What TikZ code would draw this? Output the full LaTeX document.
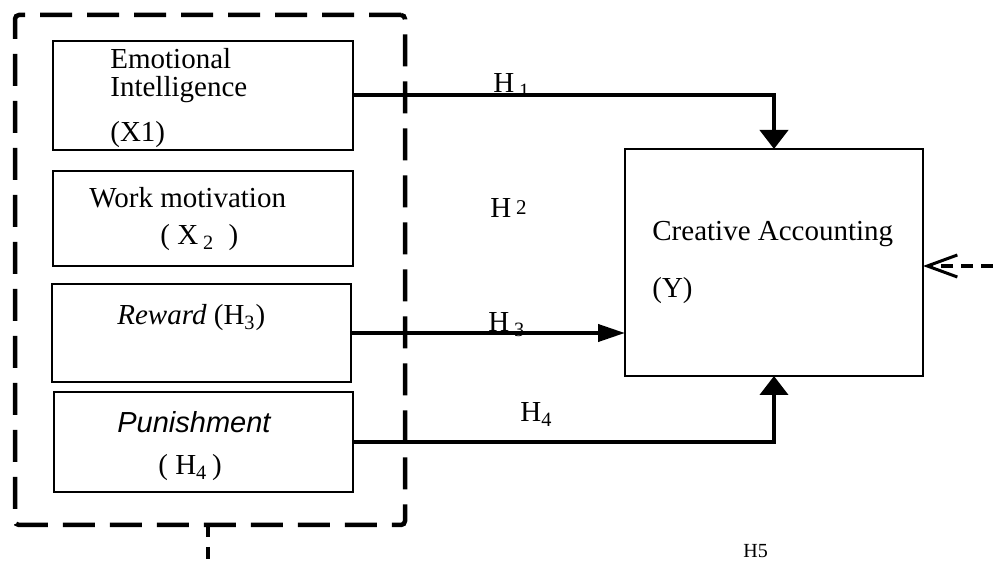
\documentclass[tikz,border=0pt]{standalone}
\usepackage{fontspec}
\setmainfont{Liberation Serif}
\newfontfamily\arialfont{Liberation Sans}
\usetikzlibrary{arrows.meta}
\begin{document}
\begin{tikzpicture}[x=0.5pt,y=-0.5pt,
  box/.style={draw, line width=0.6pt, inner sep=0pt, outer sep=0pt, anchor=north west},
  txt/.style={anchor=base west, inner sep=0pt, font=\fontsize{14.5}{17}\selectfont},
  small/.style={anchor=base west, inner sep=0pt, font=\fontsize{10}{12}\selectfont},
  conn/.style={line width=2pt, -{Triangle[width=14pt,length=9.5pt]}},
  hconn/.style={line width=2pt, -{Triangle[width=8.5pt,length=13.5pt]}},
  grpbox/.style={draw, line width=2.25pt, dash pattern=on 16pt off 7.5pt, rounded corners=2pt, inner sep=0pt, outer sep=0pt, anchor=north west},
  dline/.style={line width=2pt, dash pattern=on 6pt off 4pt}
]
\useasboundingbox (0,0) rectangle (993,567);

% group dashed box
\node[grpbox, minimum width=195pt, minimum height=255pt] (grp) at (15,15) {};

% left boxes
\node[box, minimum width=150pt, minimum height=54.5pt] (b1) at (53,41) {};
\node[box, minimum width=150pt, minimum height=47.5pt] (b2) at (53,171) {};
\node[box, minimum width=149.5pt, minimum height=49pt] (b3) at (52,284) {};
\node[box, minimum width=149.5pt, minimum height=50pt] (b4) at (54,392) {};

% Y box
\node[box, minimum width=149pt, minimum height=113.5pt] (y) at (625,149) {};

% box texts
\node[txt] (t1a) at (110,69) {Emotional};
\node[txt] (t1b) at (110,97) {Intelligence};
\node[txt] (t1c) at (110,142) {(X1)};
\node[txt] (t2a) at (89,208) {Work motivation};
\node[txt] (t2b) at (160,245) {( X\,\textsubscript{2}\enspace)};
\node[txt] (t3) at (117,325) {\textit{Reward} (H\textsubscript{3})};
\node[txt] (t4a) at (117,433) {\arialfont\itshape Punishment};
\node[txt] (t4b) at (158,475) {( H\textsubscript{4}\,)};
\node[txt] (ty1) at (652,241) {Creative Accounting};
\node[txt] (ty2) at (652,298) {(Y)};

% hypothesis labels
\node[txt] (h1) at (493,93) {H\,\textsubscript{1}};
\node[txt] (h2) at (490,218) {H\,\raisebox{1.5pt}{\fontsize{10.5}{12}\selectfont 2}};
\node[txt] (h3) at (488,332) {H\,\textsubscript{3}};
\node[txt] (h4) at (520,422) {H\textsubscript{4}};
\node[small] (h5) at (743,558) {H5};

% connectors
\draw[conn] (b1.east) -| (y.north);
\draw[hconn] (b3.east) -- (b3.east -| y.west);
\draw[conn] (b4.east) -| (y.south);

\coordinate (r) at (993,266);
\draw[dline, -{Straight Barb[length=15pt,width=11pt,line width=1.5pt]}] (r) -- (r -| y.east);

\coordinate (d) at (208,567);
\draw[line width=2pt, dash pattern=on 6pt off 5pt] (grp.south -| d) -- (d);
\end{tikzpicture}
\end{document}
